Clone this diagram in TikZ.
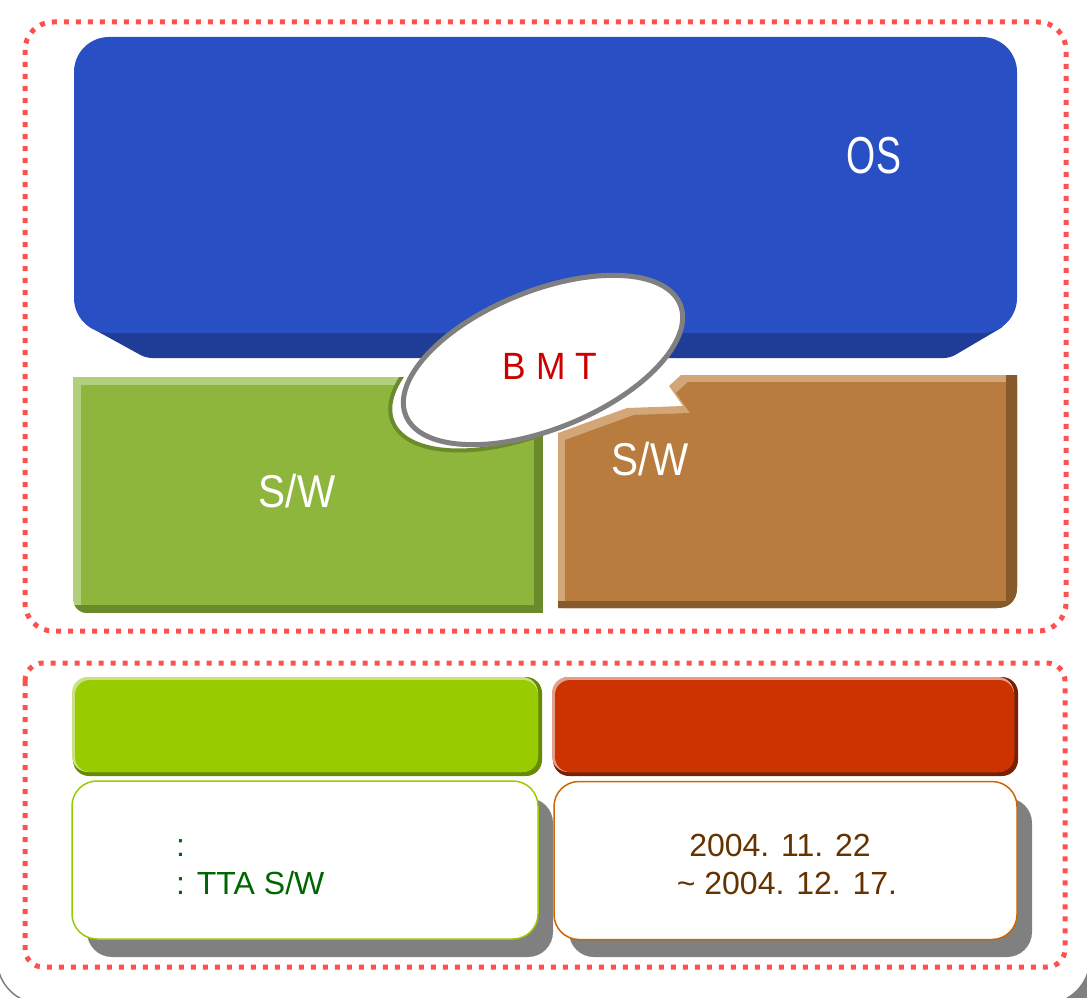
\documentclass[tikz,border=0pt]{standalone}
\usepackage{fontspec}
\setmainfont{Liberation Sans}
\newfontfamily\labelfont[FakeStretch=0.88]{Liberation Sans}
\newfontfamily\osfont[FakeStretch=0.72]{Liberation Sans}
\newfontfamily\bmtfont[FakeStretch=0.93]{Liberation Sans}
\usepackage{xcolor}
\definecolor{dotred}{HTML}{FF5050}
\definecolor{osblue}{HTML}{2850C4}
\definecolor{osdark}{HTML}{1F3C96}
\definecolor{swgreen}{HTML}{8FB63C}
\definecolor{swgreenlight}{HTML}{B3CE7C}
\definecolor{swgreendark}{HTML}{6A8A2C}
\definecolor{swbrown}{HTML}{B87C3E}
\definecolor{swbrownlight}{HTML}{D3A677}
\definecolor{swbrowndark}{HTML}{865A2B}
\definecolor{bmtred}{HTML}{CC0000}
\definecolor{hdgreen}{HTML}{99CC00}
\definecolor{hdgreenlight}{HTML}{C8E283}
\definecolor{hdgreendark}{HTML}{668A00}
\definecolor{hdred}{HTML}{CC3300}
\definecolor{hdredlight}{HTML}{E0A08C}
\definecolor{hdreddark}{HTML}{7A1F00}
\definecolor{shadowgray}{HTML}{808080}
\definecolor{scopetext}{HTML}{006600}
\definecolor{dateline}{HTML}{CC6600}
\definecolor{datetext}{HTML}{663300}
\tikzset{
    dotted-frame/.style = {draw=dotred, line width=5pt, dash pattern=on 5pt off 7pt},
    sw-label/.style = {text=white, inner sep=0pt, anchor=base, font=\labelfont\fontsize{46}{50}\selectfont},
    bmt-ellipse/.style = {draw=shadowgray, fill=white, line width=5pt},
    info-box/.style = {fill=white, line width=1.5pt, rounded corners=25pt, minimum width=466pt, minimum height=158pt, inner sep=0pt},
    info-text/.style = {inner sep=0pt, font=\fontsize{32}{38}\selectfont},
}
\begin{document}
\begin{tikzpicture}[x=1pt,y=-1pt]
\useasboundingbox (0,0) rectangle (1087,998);
\fill[shadowgray, rounded corners=45pt] (9,-40) rectangle (1100,1012);
\draw[shadowgray, fill=white, line width=1.5pt, rounded corners=45pt] (-3,-50) rectangle (1090,1004);

\draw[dotted-frame, rounded corners=28pt] (25,22) rectangle (1066,631);
\draw[dotted-frame, rounded corners=18pt] (25,663) rectangle (1065,967);

\fill[osdark, rounded corners=6pt] (86,325) -- (1006,325) -- (950,358) -- (146,358) -- cycle;
\fill[osblue, rounded corners=35pt] (74,37) rectangle (1017,333);
\node[sw-label, font=\osfont\fontsize{52}{56}\selectfont] (os) at (874,173) {OS};

\begin{scope}
    \clip (73,377) -- (543,377) -- (543,613) -- (88,613) .. controls (78,613) and (73,606) .. (73,598) -- cycle;
    \fill[swgreenlight] (73,377) rectangle (543,613);
    \fill[swgreen] (81,385) rectangle (543,613);
    \fill[swgreendark] (534,377) rectangle (543,613);
    \fill[swgreendark] (73,605) rectangle (543,613);
    \draw[swgreendark, fill=white, line width=4pt, rotate around={22:(528,367)}] (528,367) ellipse [x radius=146pt, y radius=68pt];
\end{scope}
\node[sw-label] (sw-green) at (297,507) {S/W};

\begin{scope}
    \clip (558,608) -- (558,433) -- (627,408) -- (683,406) -- (669,386) -- (681,375) -- (1017,375) -- (1017,588) .. controls (1017,600) and (1009,608) .. (997,608) -- cycle;
    \fill[swbrownlight] (550,370) rectangle (1020,612);
    \fill[swbrown, shift={(7,7)}] (558,608) -- (558,433) -- (627,408) -- (683,406) -- (669,386) -- (681,375) -- (1017,375) -- (1017,608) -- cycle;
    \fill[swbrowndark] (1006,370) rectangle (1020,612);
    \fill[swbrowndark] (550,601) rectangle (1020,612);
\end{scope}
\node[sw-label] (sw-brown) at (650,475) {S/W};

\draw[bmt-ellipse, rotate around={22:(543,360)}] (543,360) ellipse [x radius=148pt, y radius=69pt];
\node[sw-label, text=bmtred, font=\bmtfont\fontsize{38}{42}\selectfont] (bmt) at (550,379) {B M T};

\fill[hdgreendark, rounded corners=16pt] (73,677) rectangle (542,776);
\fill[hdgreenlight, rounded corners=16pt] (72,677) rectangle (538,772);
\fill[hdgreen, rounded corners=15pt] (75,680) rectangle (538,772);
\fill[hdreddark, rounded corners=16pt] (553,677) rectangle (1018,776);
\fill[hdredlight, rounded corners=16pt] (552,677) rectangle (1014,772);
\fill[hdred, rounded corners=15pt] (555,680) rectangle (1014,772);

\fill[shadowgray, rounded corners=25pt] (87,798) rectangle (553,957);
\node[info-box, draw=hdgreen] (scope-box) at (305,860) {};
\node[info-text, text=scopetext, anchor=base west] (scope-line1) at (176,856) {:};
\node[info-text, text=scopetext, anchor=base west] (scope-line2) at (176,894) {: TTA S/W};

\fill[shadowgray, rounded corners=25pt] (569,798) rectangle (1032,957);
\node[info-box, draw=dateline, minimum width=463pt] (date-box) at (785.5,860.5) {};
\node[info-text, text=datetext, anchor=base] (date-start) at (780,856) {2004. 11. 22};
\node[info-text, text=datetext, anchor=base] (date-end) at (787,894) {\textasciitilde{} 2004. 12. 17.};
\end{tikzpicture}
\end{document}
